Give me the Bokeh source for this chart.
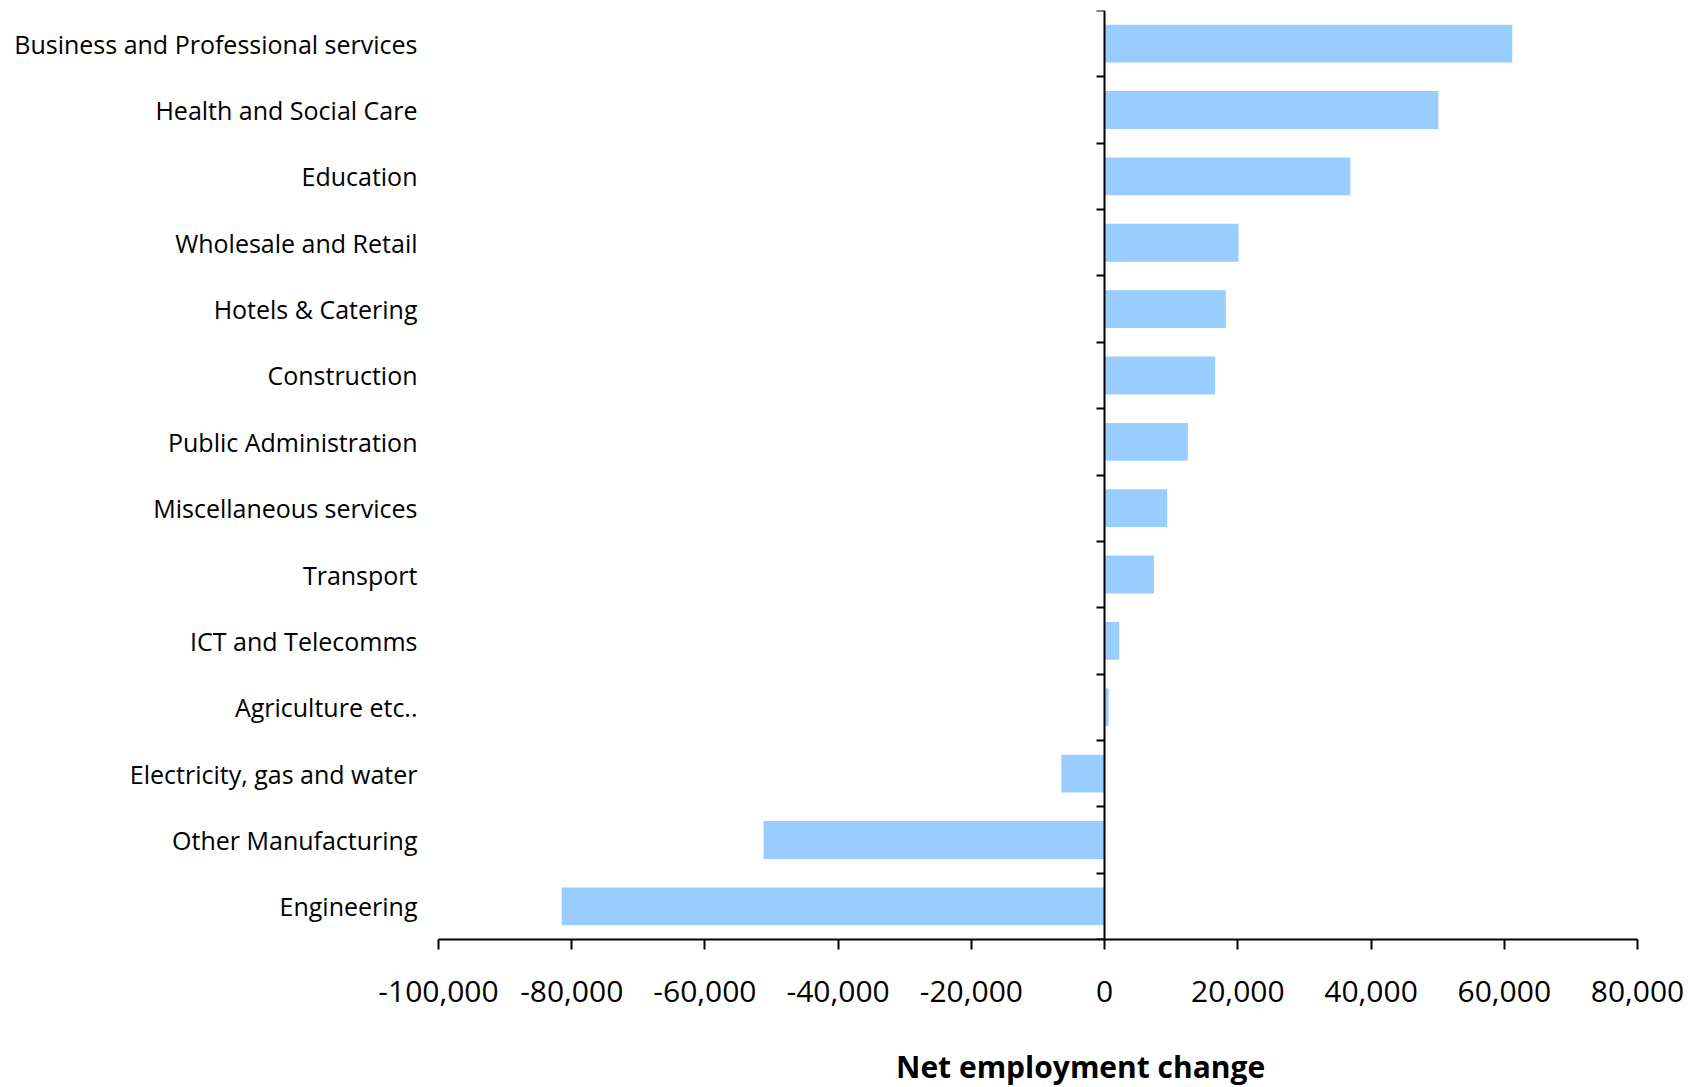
from bokeh.plotting import figure
from bokeh.layouts import column
from bokeh.models import (Range1d, LinearAxis, FixedTicker,
                          NumeralTickFormatter, Div, ColumnDataSource)
from bokeh.embed import file_html
from bokeh.resources import INLINE

categories = [
    "Business and Professional services",
    "Health and Social Care",
    "Education",
    "Wholesale and Retail",
    "Hotels & Catering",
    "Construction",
    "Public Administration",
    "Miscellaneous services",
    "Transport",
    "ICT and Telecomms",
    "Agriculture etc..",
    "Electricity, gas and water",
    "Other Manufacturing",
    "Engineering",
]
values = [61200, 50100, 36900, 20100, 18200, 16600, 12500, 9400, 7400, 2200, 600, -6500, -51200, -81500]
x_ticks = [-100000, -80000, -60000, -40000, -20000, 0, 20000, 40000, 60000, 80000]
x_title = "Net employment change"

FONT = "Open Sans"
n = len(categories)
# category slots, first category at the top
ypos = [n - 0.5 - i for i in range(n)]

p = figure(width=1689, height=1047, output_backend="svg", toolbar_location=None,
           y_range=Range1d(0, n),
           x_range=Range1d(x_ticks[0], x_ticks[-1]),
           min_border_left=438, min_border_right=52, min_border_top=10, min_border_bottom=108)
p.outline_line_color = None
p.xgrid.grid_line_color = None
p.ygrid.grid_line_color = None
p.background_fill_color = "white"

src = ColumnDataSource(dict(y=ypos, val=values, cat=categories))
p.hbar(y="y", left=0, right="val", height=0.57, source=src,
       fill_color="#99CCFF", line_color=None)

# category labels on the left
yax = p.yaxis[0]
yax.ticker = FixedTicker(ticks=ypos)
yax.major_label_overrides = {y: c for y, c in zip(ypos, categories)}
yax.axis_line_color = None
yax.major_tick_line_color = None
yax.minor_tick_line_color = None
yax.major_label_standoff = 15
yax.major_label_text_font = FONT
yax.major_label_text_font_size = "25px"
yax.major_label_text_color = "black"

# x axis
xax = p.xaxis[0]
xax.ticker = FixedTicker(ticks=x_ticks)
xax.formatter = NumeralTickFormatter(format="0,0")
xax.axis_line_width = 2
xax.axis_line_color = "black"
xax.major_tick_line_width = 2
xax.major_tick_out = 10
xax.major_tick_in = 0
xax.minor_tick_line_color = None
xax.major_label_standoff = 31
xax.major_label_text_font = FONT
xax.major_label_text_font_size = "30px"
xax.major_label_text_color = "black"

# category axis at x = 0 with ticks on category boundaries
zax = LinearAxis(fixed_location=0, ticker=FixedTicker(ticks=list(range(n + 1))))
zax.axis_line_width = 2
zax.major_tick_line_width = 2
zax.major_tick_in = 8
zax.major_tick_out = 0
zax.minor_tick_line_color = None
zax.major_label_text_font_size = "0px"
zax.major_label_text_alpha = 0
p.add_layout(zax, "right")

# axis title below the plot
title = Div(text=x_title, width=1689, height=40, margin=0,
            styles={"font-family": FONT, "font-size": "30px", "font-weight": "bold",
                    "color": "black", "padding-left": "896px", "line-height": "40px",
                    "white-space": "nowrap"})

layout = column(p, title, spacing=0)
open("out.html", "w").write(file_html(layout, INLINE))
